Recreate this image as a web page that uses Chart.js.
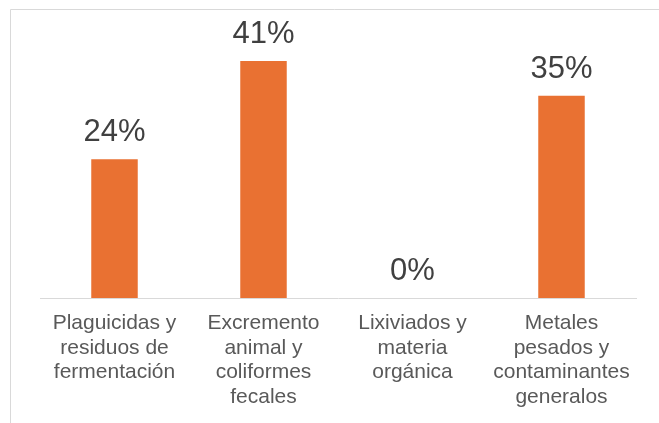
<!DOCTYPE html>
<html>
<head>
<meta charset="utf-8">
<script src="https://cdn.jsdelivr.net/npm/chart.js"></script>
<style>
    html, body { margin: 0; padding: 0; background: #fff; }
    #wrap { position: relative; width: 659px; height: 423px; }
</style>
</head>
<body>
<div id="wrap"><canvas id="chart"></canvas></div>
<script>
// categories (wrapped the same way as in the picture)
const categories = [
    ['Plaguicidas y', 'residuos de', 'fermentación'],
    ['Excremento', 'animal y', 'coliformes', 'fecales'],
    ['Lixiviados y', 'materia', 'orgánica'],
    ['Metales', 'pesados y', 'contaminantes', 'generalos']
];
const percentages = [24, 41, 0, 35];

const ORANGE = '#E97132';
const FONT = "'Liberation Sans', Arial, sans-serif";

// thin grey frame, only top and left edges fall inside the picture
const framePlugin = {
    id: 'frame',
    beforeDraw(chart) {
        const ctx = chart.ctx;
        ctx.save();
        ctx.strokeStyle = '#d9d9d9';
        ctx.lineWidth = 1;
        ctx.beginPath();
        ctx.moveTo(10.5, chart.height);
        ctx.lineTo(10.5, 9.5);
        ctx.lineTo(chart.width, 9.5);
        ctx.stroke();
        ctx.restore();
    }
};

// percentage labels above each bar
const valueLabels = {
    id: 'valueLabels',
    afterDatasetsDraw(chart) {
        const ctx = chart.ctx;
        const meta = chart.getDatasetMeta(0);
        ctx.save();
        ctx.fillStyle = '#404040';
        ctx.font = '31px ' + FONT;
        ctx.textAlign = 'center';
        ctx.textBaseline = 'alphabetic';
        meta.data.forEach((bar, i) => {
            ctx.fillText(percentages[i] + '%', bar.x, bar.y - 18);
        });
        ctx.restore();
    }
};

new Chart(document.getElementById('chart'), {
    type: 'bar',
    data: {
        labels: categories,
        datasets: [{
            data: percentages,
            backgroundColor: ORANGE,
            barPercentage: 0.312,
            categoryPercentage: 1
        }]
    },
    options: {
        responsive: true,
        maintainAspectRatio: false,
        animation: false,
        layout: { padding: { top: 9, left: 40, right: 23, bottom: 0 } },
        plugins: {
            legend: { display: false },
            tooltip: { enabled: false }
        },
        scales: {
            x: {
                grid: { display: false, drawTicks: false },
                border: { display: true, color: '#d9d9d9', width: 1 },
                ticks: {
                    color: '#595959',
                    padding: 13,
                    maxRotation: 0,
                    autoSkip: false,
                    font: { family: FONT, size: 21, lineHeight: 1.17 }
                },
                afterFit(scale) { scale.height = 125; }
            },
            y: {
                display: false,
                min: 0,
                max: 50
            }
        }
    },
    plugins: [framePlugin, valueLabels]
});
</script>
</body>
</html>
